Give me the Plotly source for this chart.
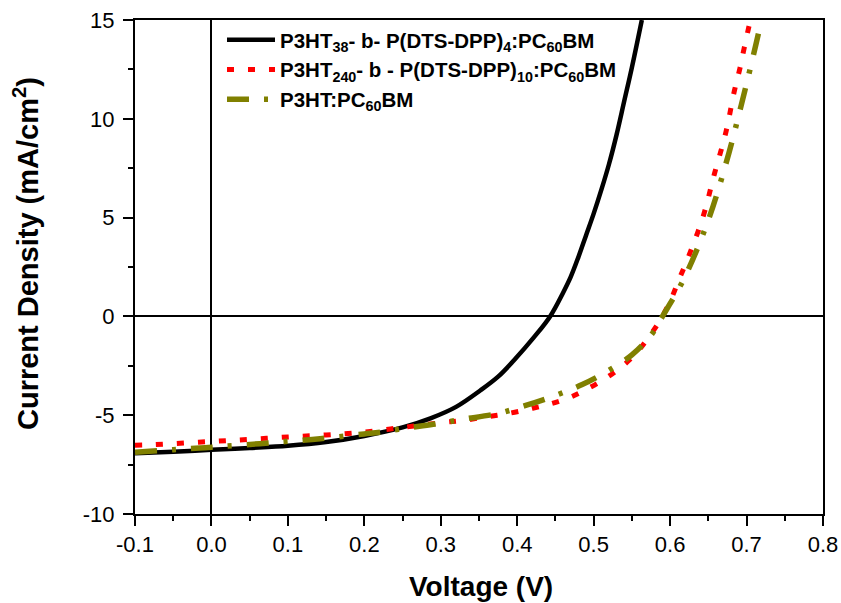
import plotly.graph_objects as go

# ---- data ----
v_black = [-0.1, -0.05, 0.0, 0.05, 0.1, 0.15, 0.2, 0.25, 0.2865, 0.32, 0.352, 0.375, 0.3955,
           0.422, 0.443, 0.46, 0.47, 0.48, 0.49, 0.50, 0.51, 0.52, 0.53, 0.54, 0.55, 0.563]
j_black = [-6.93, -6.85, -6.75, -6.66, -6.55, -6.36, -6.05, -5.62, -5.16, -4.58, -3.74, -3.05, -2.23,
           -1.05, 0.0, 1.2, 2.0, 3.0, 4.1, 5.2, 6.4, 7.7, 9.2, 10.9, 12.6, 15.0]

v_red = [-0.1, -0.08, -0.05, 0.0, 0.05, 0.1, 0.15, 0.2, 0.25, 0.3, 0.33, 0.36, 0.391, 0.42, 0.444,
         0.47, 0.492, 0.515, 0.535, 0.555, 0.572, 0.588, 0.601, 0.612, 0.623, 0.643, 0.658, 0.673,
         0.684, 0.691, 0.697, 0.705]
j_red = [-6.52, -6.5, -6.44, -6.33, -6.22, -6.1, -6.0, -5.85, -5.62, -5.38, -5.26, -5.08, -4.89, -4.65, -4.42,
         -4.08, -3.66, -3.15, -2.6, -1.89, -1.05, -0.12, 0.85, 1.9, 2.92, 5.03, 7.22, 9.33,
         11.4, 12.5, 13.6, 15.0]

v_olive = [-0.1, -0.05, -0.015, 0.0, 0.063, 0.1, 0.142, 0.2, 0.221, 0.26, 0.295, 0.33, 0.374, 0.41,
           0.45, 0.485, 0.52, 0.55, 0.575, 0.59, 0.618, 0.649, 0.673, 0.693, 0.7125, 0.7195]
j_olive = [-6.87, -6.75, -6.66, -6.62, -6.44, -6.32, -6.19, -5.95, -5.86, -5.62, -5.43, -5.2, -4.92, -4.52,
           -4.0, -3.45, -2.73, -1.95, -0.95, 0.0, 1.9, 4.77, 7.73, 10.68, 13.8, 15.0]

names = [
    "P3HT<sub>38</sub>- b- P(DTS-DPP)<sub>4</sub>:PC<sub>60</sub>BM",
    "P3HT<sub>240</sub>- b - P(DTS-DPP)<sub>10</sub>:PC<sub>60</sub>BM",
    "P3HT:PC<sub>60</sub>BM",
]

x_tickvals = [-0.1, 0.0, 0.1, 0.2, 0.3, 0.4, 0.5, 0.6, 0.7, 0.8]
x_ticktext = ["-0.1", "0.0", "0.1", "0.2", "0.3", "0.4", "0.5", "0.6", "0.7", "0.8"]
y_tickvals = [-10, -5, 0, 5, 10, 15]
y_ticktext = ["-10", "-5", "0", "5", "10", "15"]

FONT = "Liberation Sans, Arial, sans-serif"

fig = go.Figure()
fig.add_trace(go.Scatter(x=v_black, y=j_black, mode="lines", name=names[0],
                         line=dict(color="black", width=4.5, shape="spline")))
fig.add_trace(go.Scatter(x=v_red, y=j_red, mode="lines", name=names[1],
                         line=dict(color="#FF0000", width=5, dash="7px,14px", shape="spline")))
fig.add_trace(go.Scatter(x=v_olive, y=j_olive, mode="lines", name=names[2],
                         line=dict(color="#808000", width=5.5, dash="22px,15px,4px,15px", shape="spline")))

W, H = 841, 603
ml, mr, mt, mb = 135, 18, 20, 89
pw, ph = W - ml - mr, H - mt - mb

axis_common = dict(showgrid=False, zeroline=True, zerolinecolor="black", zerolinewidth=1.6,
                   showline=True, linecolor="black", linewidth=2, mirror=True, automargin=False,
                   ticks="outside", ticklen=10, tickwidth=2, tickcolor="black",
                   tickfont=dict(family=FONT, size=22, color="black"))

fig.update_xaxes(range=[-0.1, 0.8], tickvals=x_tickvals, ticktext=x_ticktext,
                 minor=dict(ticks="outside", ticklen=5, tickwidth=2, tickcolor="black", dtick=0.05,
                            tick0=-0.1, showgrid=False),
                 **axis_common)
fig.update_yaxes(range=[-10, 15], tickvals=y_tickvals, ticktext=y_ticktext, ticklabelstandoff=4,
                 minor=dict(ticks="outside", ticklen=5, tickwidth=2, tickcolor="black", dtick=2.5,
                            tick0=-10, showgrid=False),
                 **axis_common)

fig.update_layout(
    width=W, height=H,
    margin=dict(l=ml, r=mr, t=mt, b=mb, autoexpand=False),
    paper_bgcolor="white", plot_bgcolor="white",
    showlegend=True,
    legend=dict(x=(222 - ml) / pw, y=1 - (20 - mt) / ph, xanchor="left", yanchor="top",
                bgcolor="rgba(0,0,0,0)", borderwidth=0, itemwidth=48,
                font=dict(family=FONT, size=20.5, color="black", weight="bold"),
                tracegroupgap=1),
    annotations=[
        dict(text="Voltage (V)", xref="paper", yref="paper", x=(481 - ml) / pw, y=0,
             xanchor="center", yanchor="middle", yshift=-(586 - (H - mb)), showarrow=False,
             font=dict(family=FONT, size=28, color="black", weight="bold")),
        dict(text="Current Density (mA/cm<sup>2</sup>)", xref="paper", yref="paper",
             x=0, y=((H - mb) - 254) / ph, xanchor="center", yanchor="middle",
             xshift=26 - ml, textangle=-90, showarrow=False,
             font=dict(family=FONT, size=29, color="black", weight="bold")),
    ],
)

fig.write_html("out.html", config={"displayModeBar": False},
               post_script="document.body.style.margin='0';document.body.style.overflow='hidden';")
